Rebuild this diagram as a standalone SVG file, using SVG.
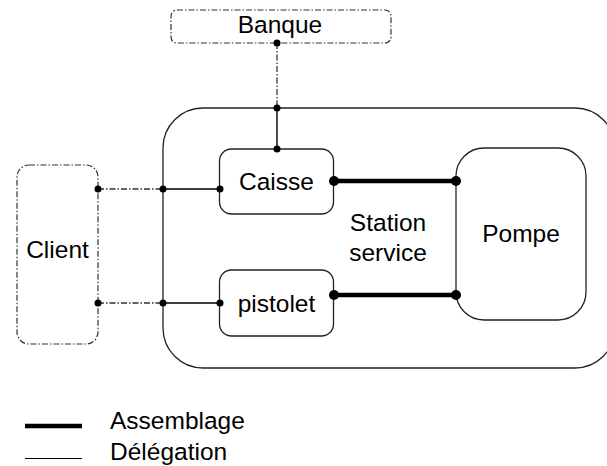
<svg xmlns="http://www.w3.org/2000/svg" width="607" height="466" viewBox="0 0 607 466">
<style>
text{font-family:"Liberation Sans",Arial,sans-serif;font-size:24.5px;fill:#000}
.box{fill:#fff;stroke:#222;stroke-width:1.3}
.ext{fill:#fff;stroke:#333;stroke-width:1.2;stroke-dasharray:6,2,1.5,2}
.del{stroke:#000;stroke-width:1.4;fill:none}
.dd{stroke:#333;stroke-width:1.3;fill:none;stroke-dasharray:6,2,1.5,2}
.asm{stroke:#000;stroke-width:4.5;fill:none}
.dot{fill:#000}
</style>
<g id="station">
<rect class="box" x="163" y="108" width="452" height="260" rx="40"/>
<text x="388" y="231" text-anchor="middle">Station</text>
<text x="388" y="261" text-anchor="middle">service</text>
</g>
<g id="banque">
<rect class="ext" x="171" y="10" width="220" height="33" rx="6"/>
<text x="280" y="33" text-anchor="middle">Banque</text>
</g>
<g id="client">
<rect class="ext" x="17" y="165" width="81" height="179" rx="12"/>
<text x="57.5" y="258" text-anchor="middle">Client</text>
</g>
<g id="caisse">
<rect class="box" x="219.5" y="149" width="114" height="65" rx="12"/>
<text x="276.5" y="190" text-anchor="middle">Caisse</text>
</g>
<g id="pistolet">
<rect class="box" x="219.5" y="270" width="114" height="66" rx="12"/>
<text x="276.5" y="312" text-anchor="middle">pistolet</text>
</g>
<g id="pompe">
<rect class="box" x="456" y="148" width="130" height="172" rx="28"/>
<text x="521" y="242" text-anchor="middle">Pompe</text>
</g>
<g id="connectors">
<line class="dd" x1="277" y1="43" x2="277" y2="108"/>
<line class="del" x1="277" y1="108" x2="277" y2="149"/>
<line class="dd" x1="98" y1="189" x2="163" y2="189"/>
<line class="dd" x1="98" y1="303" x2="163" y2="303"/>
<line class="del" x1="163" y1="189" x2="220" y2="189"/>
<line class="del" x1="163" y1="303" x2="220" y2="303"/>
<line class="asm" x1="334" y1="181" x2="456" y2="181"/>
<line class="asm" x1="334" y1="295" x2="456" y2="295"/>
<circle class="dot" cx="277" cy="43" r="3.5"/>
<circle class="dot" cx="277" cy="108" r="3.5"/>
<circle class="dot" cx="277" cy="149" r="3.5"/>
<circle class="dot" cx="98" cy="189" r="3.5"/>
<circle class="dot" cx="163" cy="189" r="3.5"/>
<circle class="dot" cx="220" cy="189" r="3.5"/>
<circle class="dot" cx="98" cy="303" r="3.5"/>
<circle class="dot" cx="163" cy="303" r="3.5"/>
<circle class="dot" cx="220" cy="303" r="3.5"/>
<circle class="dot" cx="334" cy="181" r="5"/>
<circle class="dot" cx="456" cy="181" r="5"/>
<circle class="dot" cx="334" cy="295" r="5"/>
<circle class="dot" cx="456" cy="295" r="5"/>
</g>
<g id="legend">
<line class="asm" x1="25" y1="426" x2="82" y2="426"/>
<line stroke="#000" stroke-width="1" x1="25" y1="458.5" x2="82" y2="458.5"/>
<text x="110" y="429">Assemblage</text>
<text x="110" y="460">Délégation</text>
</g>
</svg>
